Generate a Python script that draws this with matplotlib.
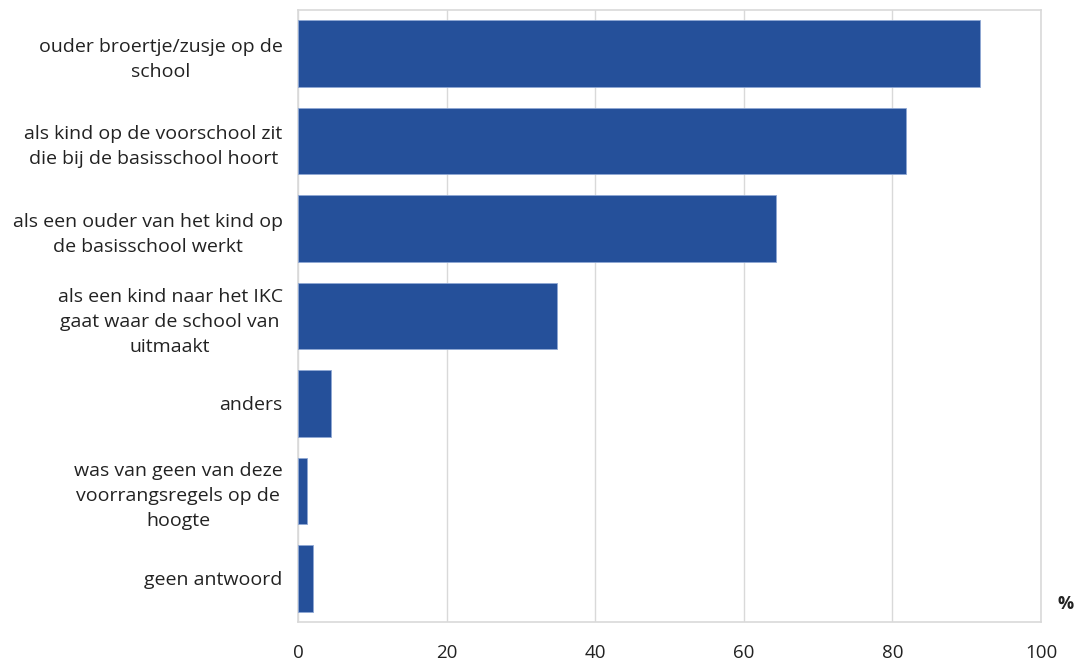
import matplotlib
matplotlib.use("Agg")
import matplotlib.pyplot as plt

categories = [
    "ouder broertje/zusje op de\nschool",
    "als kind op de voorschool zit\ndie bij de basisschool hoort",
    "als een ouder van het kind op\nde basisschool werkt",
    "als een kind naar het IKC\ngaat waar de school van\nuitmaakt",
    "anders",
    "was van geen van deze\nvoorrangsregels op de\nhoogte",
    "geen antwoord",
]
values = [91.8, 81.8, 64.3, 34.9, 4.4, 1.2, 2.0]
xticks = [0, 20, 40, 60, 80, 100]

plt.rcParams['font.family'] = ['Open Sans', 'DejaVu Sans']

fig = plt.figure(figsize=(10.79, 6.66), dpi=100)
ax = fig.add_axes([298/1079, 44/666, (1041-298)/1079, (622-10)/666])

y = list(range(len(categories)))
ax.barh(y, values, height=0.76, color='#25509a', edgecolor='#8fa8d4', linewidth=0.6, zorder=3)
ax.set_ylim(len(categories) - 0.5, -0.5)
ax.set_xlim(0, 100)
ax.set_xticks(xticks)
ax.set_xticklabels([str(t) for t in xticks], fontsize=13.5, color='#222222')
ax.set_yticks(y)
ax.set_yticklabels(categories, fontsize=14, color='#222222', linespacing=1.5,
                   multialignment='center')
ax.tick_params(axis='x', length=0, pad=16)
ax.tick_params(axis='y', length=0, pad=11)
ax.grid(axis='x', color='#d9d9d9', linewidth=1, zorder=0)
for s in ax.spines.values():
    s.set_color('#d9d9d9')
    s.set_linewidth(1.2)

fig.text(1066/1079, 1 - 604/666, "%", fontsize=13, fontweight='bold', ha='center', va='center', color='#222222')

fig.savefig("out.png", dpi=100)
